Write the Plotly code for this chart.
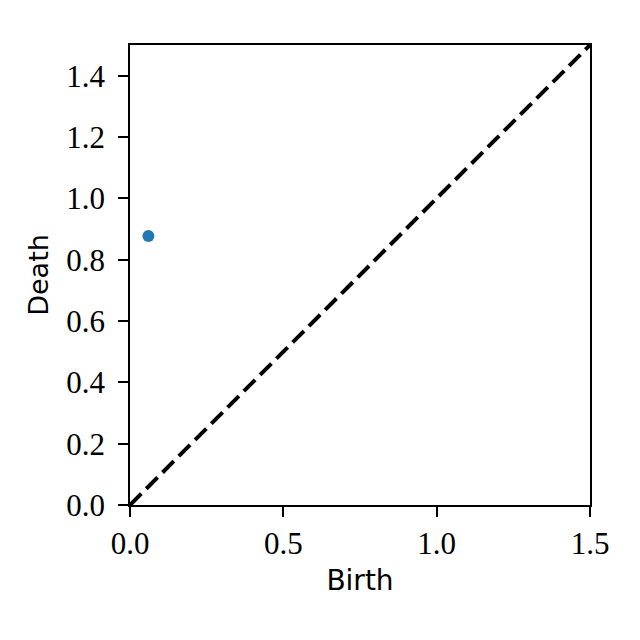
import plotly.graph_objects as go

# persistence pairs (birth, death)
birth = [0.06]
death = [0.877]

# diagonal reference line
diag = [0.0, 1.5]

tick_vals_x = [0.0, 0.5, 1.0, 1.5]
tick_vals_y = [0.0, 0.2, 0.4, 0.6, 0.8, 1.0, 1.2, 1.4]

fig = go.Figure()
fig.add_trace(go.Scatter(x=diag, y=diag, mode='lines',
                         line=dict(color='black', width=4, dash='16px,7px'),
                         showlegend=False))
fig.add_trace(go.Scatter(x=birth, y=death, mode='markers',
                         marker=dict(color='#1f77b4', size=12),
                         showlegend=False))

axis = dict(showline=True, mirror=True, linecolor='black', linewidth=1.5,
            ticks='outside', ticklen=10, tickwidth=1.5, tickcolor='black',
            showgrid=False, zeroline=False, range=[0, 1.5], automargin=False,
            tickfont=dict(family='Liberation Serif', size=31, color='black'))

# page body adds ~8px offset, margins compensate
fig.update_layout(
    width=640, height=640,
    margin=dict(l=122, r=58, t=37, b=143),
    plot_bgcolor='white', paper_bgcolor='white',
    xaxis=dict(axis, tickvals=tick_vals_x, ticktext=['0.0', '0.5', '1.0', '1.5'],
               ticklabelstandoff=0,
               title=dict(text='Birth', standoff=10,
                          font=dict(family='DejaVu Sans', size=28, color='black'))),
    yaxis=dict(axis, tickvals=tick_vals_y, ticktext=[f'{v:.1f}' for v in tick_vals_y],
               ticklabelstandoff=7,
               title=dict(text='Death', standoff=10,
                          font=dict(family='DejaVu Sans', size=27, color='black'))),
)

fig.write_html("out.html")
